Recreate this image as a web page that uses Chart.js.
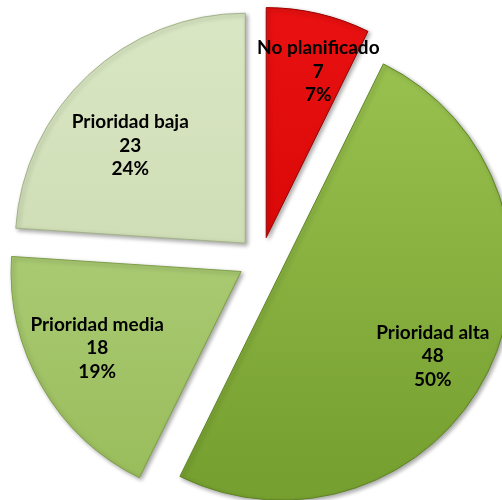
<!DOCTYPE html>
<html>
<head>
<meta charset="utf-8">
<script src="https://cdn.jsdelivr.net/npm/chart.js@4.4.1/dist/chart.umd.min.js"></script>
<style>
    html, body { margin: 0; padding: 0; background: #ffffff; }
    canvas { display: block; }
</style>
</head>
<body>
<canvas id="pieChart" width="502" height="500"></canvas>
<script>
// Chart data
const categories = ['No planificado', 'Prioridad alta', 'Prioridad media', 'Prioridad baja'];
const counts = [7, 48, 18, 23];

// Slice colours (top / bottom of the vertical gradient, plus edge)
const colorTop = ['#e81010', '#9cc452', '#bad88a', '#d9e6c3'];
const colorBottom = ['#cc0000', '#76a030', '#9abd5c', '#c6d5a9'];
const edgeColors = ['#9a0000', '#5f8424', '#7f9e48', '#a3b288'];

// Where each label sits, relative to its slice: angle shift (deg) and distance (px)
const labelShift = [4.3, 3.4, 2.0, -6.5];
const labelDist = [174, 174, 163, 151];

const EXPLODE = 23;
const RADIUS = 230;
const total = counts.reduce((a, b) => a + b, 0);

// Gradient for one slice
function sliceFill(context) {
    const chart = context.chart;
    const i = context.dataIndex;
    const g = chart.ctx.createLinearGradient(0, 0, 0, chart.height);
    g.addColorStop(0.05, colorTop[i]);
    g.addColorStop(0.95, colorBottom[i]);
    return g;
}

// Pull every slice out along its middle angle
const explodePlugin = {
    id: 'explode',
    afterDatasetsUpdate(chart) {
        chart.getDatasetMeta(0).data.forEach(arc => {
            const mid = (arc.startAngle + arc.endAngle) / 2;
            arc.x += Math.cos(mid) * EXPLODE;
            arc.y += Math.sin(mid) * EXPLODE;
        });
    },
    beforeDatasetDraw(chart) {
        const ctx = chart.ctx;
        ctx.save();
        ctx.shadowColor = 'rgba(0, 0, 0, 0.35)';
        ctx.shadowBlur = 4;
        ctx.shadowOffsetX = 2;
        ctx.shadowOffsetY = 2;
    },
    afterDatasetDraw(chart) {
        chart.ctx.restore();
    }
};

// Name, value and percentage inside each slice
const sliceLabels = {
    id: 'sliceLabels',
    afterDatasetsDraw(chart) {
        const ctx = chart.ctx;
        ctx.save();
        ctx.fillStyle = '#000000';
        ctx.font = 'bold 19px Lato';
        ctx.textAlign = 'center';
        ctx.textBaseline = 'middle';
        chart.getDatasetMeta(0).data.forEach((arc, i) => {
            const a = (arc.startAngle + arc.endAngle) / 2 + labelShift[i] * Math.PI / 180;
            const x = arc.x + Math.cos(a) * labelDist[i];
            const y = arc.y + Math.sin(a) * labelDist[i];
            const pct = Math.round(counts[i] / total * 100) + '%';
            ctx.fillText(categories[i], x, y - 23.5);
            ctx.fillText(String(counts[i]), x, y);
            ctx.fillText(pct, x, y + 23.5);
        });
        ctx.restore();
    }
};

new Chart(document.getElementById('pieChart'), {
    type: 'pie',
    data: {
        labels: categories,
        datasets: [{
            data: counts,
            backgroundColor: sliceFill,
            borderColor: edgeColors,
            borderWidth: 1
        }]
    },
    options: {
        responsive: false,
        animation: false,
        radius: RADIUS,
        layout: { padding: { left: 20, top: 20, right: 0, bottom: 0 } },
        plugins: {
            legend: { display: false },
            tooltip: { enabled: false }
        }
    },
    plugins: [explodePlugin, sliceLabels]
});
</script>
</body>
</html>
